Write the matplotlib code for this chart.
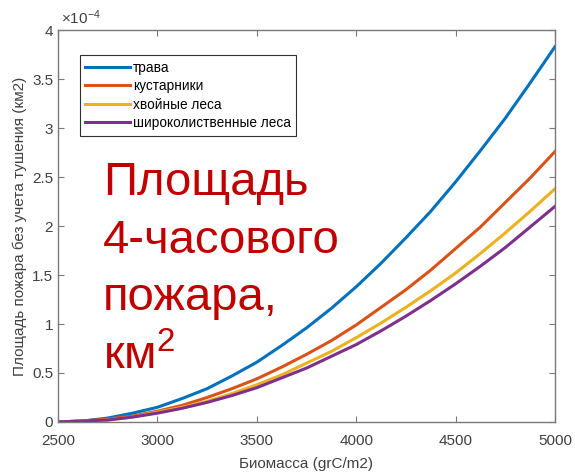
import matplotlib
matplotlib.use('Agg')
import matplotlib.pyplot as plt

# Биомасса (grC/m2)
biomass = [2500, 2625, 2750, 2875, 3000, 3125, 3250, 3375, 3500, 3625, 3750,
           3875, 4000, 4125, 4250, 4375, 4500, 4625, 4750, 4875, 5000]

# площадь пожара, x1e-4 км2
trava = [0, 0.01, 0.04, 0.09, 0.15, 0.24, 0.34, 0.47, 0.61, 0.78, 0.96,
         1.16, 1.38, 1.62, 1.88, 2.15, 2.45, 2.77, 3.10, 3.46, 3.83]
kustarniki = [0, 0.01, 0.03, 0.06, 0.11, 0.17, 0.25, 0.34, 0.44, 0.56, 0.69,
              0.83, 0.99, 1.17, 1.35, 1.55, 1.77, 1.99, 2.24, 2.49, 2.76]
hvoinye = [0, 0.01, 0.02, 0.05, 0.10, 0.15, 0.21, 0.29, 0.38, 0.48, 0.60,
           0.72, 0.86, 1.01, 1.17, 1.34, 1.52, 1.72, 1.93, 2.15, 2.38]
shirokolist = [0, 0.01, 0.02, 0.05, 0.09, 0.14, 0.20, 0.27, 0.35, 0.45, 0.55,
               0.67, 0.79, 0.93, 1.08, 1.24, 1.41, 1.59, 1.78, 1.99, 2.20]

labels = ['трава', 'кустарники', 'хвойные леса', 'широколиственные леса']
colors = ['#0072BD', '#D95319', '#EDB120', '#7E2F8E']

plt.rcParams['font.family'] = ['Liberation Sans', 'DejaVu Sans']
plt.rcParams['mathtext.default'] = 'regular'

fig = plt.figure(figsize=(5.75, 4.72), dpi=100)
ax = fig.add_axes([0.101, 0.106, 0.864, 0.830])

scale = 1e-4
for ys, lab, c in zip([trava, kustarniki, hvoinye, shirokolist], labels, colors):
    ax.plot(biomass, [v * scale for v in ys], color=c, linewidth=2.2, label=lab)

ax.set_xlim(2500, 5000)
ax.set_ylim(0, 4e-4)
ax.set_xticks([2500, 3000, 3500, 4000, 4500, 5000])
ax.set_yticks([i * 0.5e-4 for i in range(9)])
ax.set_yticklabels(['0', '0.5', '1', '1.5', '2', '2.5', '3', '3.5', '4'])

# оформление в стиле MATLAB
axis_color = '#7a7a7a'
for s in ax.spines.values():
    s.set_color(axis_color)
    s.set_linewidth(1.0)
ax.tick_params(direction='in', top=True, right=True, length=4,
               color=axis_color, labelcolor='#404040', labelsize=11)
ax.tick_params(axis='x', pad=9)
ax.text(0.005, 1.008, r'$\times10^{-4}$', transform=ax.transAxes,
        fontsize=11, color='#404040', va='bottom', ha='left')

ax.set_xlabel('Биомасса (grC/m2)', fontsize=11, color='#404040', labelpad=6)
ax.set_ylabel('Площадь пожара без учета тушения (км2)', fontsize=11,
              color='#404040', labelpad=4)

leg = ax.legend(loc='upper left', bbox_to_anchor=(0.044, 0.936), fontsize=9.8,
                handlelength=3.3, handletextpad=0.2, labelspacing=0.33,
                borderpad=0.4, borderaxespad=0, fancybox=False, framealpha=1)
leg.get_frame().set_edgecolor('#303030')
leg.get_frame().set_linewidth(0.8)

# крупная надпись поверх графика
fig.text(103 / 575, 1 - 161 / 472,
         'Площадь\n4-часового\nпожара,\nкм$^2$',
         fontsize=34, color='#C00000', va='top', ha='left', linespacing=1.4)

fig.savefig('out.png', dpi=100)
